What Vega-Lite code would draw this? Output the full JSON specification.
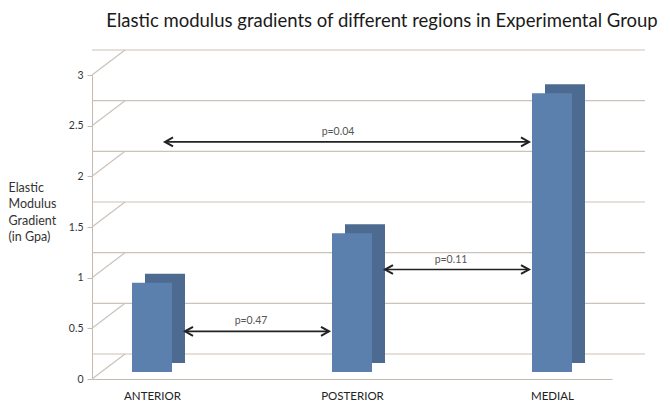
{
  "$schema": "https://vega.github.io/schema/vega-lite/v6.json",
  "autosize": "none",
  "width": 520,
  "height": 304,
  "padding": {"left": 92, "top": 75, "right": 58, "bottom": 23},
  "background": "white",
  "config": {"font": "Lato", "view": {"stroke": null}},
  "title": {
    "text": "Elastic modulus gradients of different regions in Experimental Group",
    "anchor": "middle", "dx": 30, "offset": 19,
    "fontSize": 18.5, "fontWeight": "normal", "color": "#1a1a1a", "font": "Lato"
  },
  "datasets": {
    "bars": [
      {"region": "ANTERIOR", "gradient": 0.88},
      {"region": "POSTERIOR", "gradient": 1.37},
      {"region": "MEDIAL", "gradient": 2.75}
    ],
    "grid": [
      {"v": 0}, {"v": 0.5}, {"v": 1}, {"v": 1.5}, {"v": 2}, {"v": 2.5}, {"v": 3}
    ],
    "tests": [
      {"from": "ANTERIOR", "to": "MEDIAL", "y": 2.34, "label": "p=0.04"},
      {"from": "POSTERIOR", "to": "MEDIAL", "y": 1.08, "label": "p=0.11"},
      {"from": "ANTERIOR", "to": "POSTERIOR", "y": 0.47, "label": "p=0.47"}
    ]
  },
  "encoding": {
    "y": {
      "type": "quantitative",
      "scale": {"domain": [0, 3], "nice": false, "zero": true},
      "axis": {
        "values": [0, 0.5, 1, 1.5, 2, 2.5, 3], "format": "~g",
        "grid": false, "domainColor": "#c4bab2", "tickColor": "#c4bab2", "tickSize": 5,
        "labelPadding": 4, "labelFontSize": 10.5, "labelColor": "#333", "labelFont": "Lato",
        "title": ["Elastic", "Modulus", "Gradient", "(in Gpa)"],
        "titleAngle": 0, "titleAlign": "left", "titleBaseline": "top",
        "titleX": -84, "titleY": 106, "titleLineHeight": 16.5,
        "titleFontSize": 12.5, "titleFontWeight": "normal", "titleColor": "#333", "titleFont": "Lato"
      }
    }
  },
  "layer": [
    {
      "data": {"name": "grid"},
      "mark": {"type": "rule", "color": "#cbc2ba", "strokeWidth": 1.2, "xOffset": 33, "x2Offset": 15, "yOffset": -25},
      "encoding": {"y": {"field": "v", "type": "quantitative"}}
    },
    {
      "data": {"name": "grid"},
      "mark": {"type": "rule", "color": "#cbc2ba", "strokeWidth": 1.2, "x2Offset": 33, "y2Offset": -25},
      "encoding": {
        "x": {"value": 0}, "x2": {"value": 0},
        "y": {"field": "v", "type": "quantitative"},
        "y2": {"field": "v"}
      }
    },
    {
      "data": {"name": "bars"},
      "mark": {"type": "bar", "size": 40, "color": "#4d6a90", "xOffset": 13, "yOffset": -16, "y2Offset": -16},
      "encoding": {
        "x": {
          "field": "region", "type": "nominal", "sort": null,
          "scale": {"type": "point", "padding": 0.3, "domain": ["ANTERIOR", "POSTERIOR", "MEDIAL"]},
          "axis": {
            "title": null, "labelAngle": 0, "ticks": false, "domainColor": "#c4bab2",
            "labelPadding": 11, "labelFontSize": 11.5, "labelColor": "#222", "labelFont": "Lato", "labelDx": 4
          }
        },
        "y": {"field": "gradient", "type": "quantitative"}
      }
    },
    {
      "data": {"name": "bars"},
      "mark": {"type": "bar", "size": 40, "color": "#5b80ae", "yOffset": -7, "y2Offset": -7},
      "encoding": {
        "x": {"field": "region", "type": "nominal", "sort": null},
        "y": {"field": "gradient", "type": "quantitative"}
      }
    },
    {
      "data": {"name": "tests"},
      "transform": [{"filter": "datum.label != 'p=0.04'"}],
      "mark": {"type": "rule", "color": "#222", "strokeWidth": 1.6, "xOffset": 33, "x2Offset": -23},
      "encoding": {
        "x": {"field": "from", "type": "nominal", "sort": null},
        "x2": {"field": "to"},
        "y": {"field": "y", "type": "quantitative"}
      }
    },
    {
      "data": {"name": "tests"},
      "transform": [{"filter": "datum.label == 'p=0.04'"}],
      "mark": {"type": "rule", "color": "#222", "strokeWidth": 1.6, "xOffset": 13, "x2Offset": -23},
      "encoding": {
        "x": {"field": "from", "type": "nominal", "sort": null},
        "x2": {"field": "to"},
        "y": {"field": "y", "type": "quantitative"}
      }
    },
    {
      "data": {"name": "tests"},
      "transform": [{"filter": "datum.label != 'p=0.04'"}],
      "mark": {"type": "point", "shape": "M1,-0.55L0,0L1,0.55", "size": 256, "filled": false, "stroke": "#222", "strokeWidth": 2, "opacity": 1, "xOffset": 33},
      "encoding": {
        "x": {"field": "from", "type": "nominal", "sort": null},
        "y": {"field": "y", "type": "quantitative"}
      }
    },
    {
      "data": {"name": "tests"},
      "transform": [{"filter": "datum.label == 'p=0.04'"}],
      "mark": {"type": "point", "shape": "M1,-0.55L0,0L1,0.55", "size": 256, "filled": false, "stroke": "#222", "strokeWidth": 2, "opacity": 1, "xOffset": 13},
      "encoding": {
        "x": {"field": "from", "type": "nominal", "sort": null},
        "y": {"field": "y", "type": "quantitative"}
      }
    },
    {
      "data": {"name": "tests"},
      "mark": {"type": "point", "shape": "M-1,-0.55L0,0L-1,0.55", "size": 256, "filled": false, "stroke": "#222", "strokeWidth": 2, "opacity": 1, "xOffset": -23},
      "encoding": {
        "x": {"field": "to", "type": "nominal", "sort": null},
        "y": {"field": "y", "type": "quantitative"}
      }
    },
    {
      "data": {"name": "tests"},
      "transform": [{"filter": "datum.label != 'p=0.04'"}],
      "mark": {"type": "text", "fontSize": 10.5, "color": "#555", "dx": 99, "dy": -10, "font": "Lato"},
      "encoding": {
        "x": {"field": "from", "type": "nominal", "sort": null},
        "y": {"field": "y", "type": "quantitative"},
        "text": {"field": "label"}
      }
    },
    {
      "data": {"name": "tests"},
      "transform": [{"filter": "datum.label == 'p=0.04'"}],
      "mark": {"type": "text", "fontSize": 10.5, "color": "#555", "dx": 186, "dy": -10, "font": "Lato"},
      "encoding": {
        "x": {"field": "from", "type": "nominal", "sort": null},
        "y": {"field": "y", "type": "quantitative"},
        "text": {"field": "label"}
      }
    }
  ]
}
